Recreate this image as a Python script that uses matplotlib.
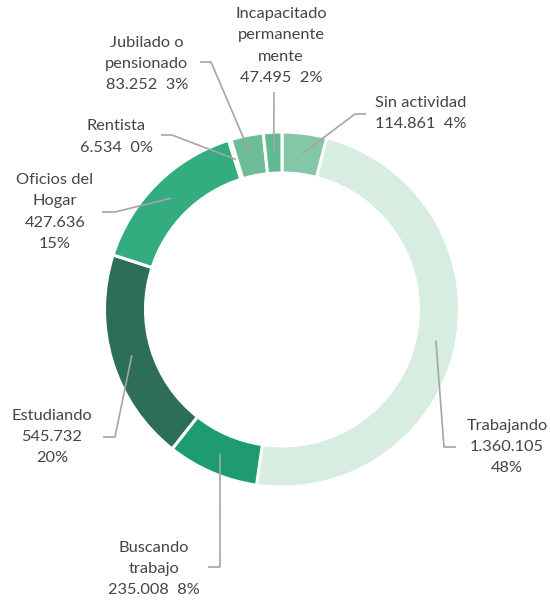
import matplotlib
matplotlib.use('Agg')
import matplotlib.pyplot as plt
import numpy as np

# datos (orden horario desde las 12)
categorias = ['Sin actividad', 'Trabajando', 'Buscando\ntrabajo', 'Estudiando',
              'Oficios del\nHogar', 'Rentista', 'Jubilado o\npensionado',
              'Incapacitado\npermanente\nmente']
valores = [114861, 1360105, 235008, 545732, 427636, 6534, 83252, 47495]
valores_txt = ['114.861', '1.360.105', '235.008', '545.732', '427.636', '6.534', '83.252', '47.495']
porcentajes = ['4%', '48%', '8%', '20%', '15%', '0%', '3%', '2%']
colores = ['#84c7a7', '#d7ede2', '#1e9c6f', '#2c6e57', '#33ad80', '#4fb387', '#6dbd98', '#5fba91']

H = 607
def px(x, y):
    return x, H - y

fig = plt.figure(figsize=(5.5, 6.07), dpi=100)
ax = fig.add_axes([0, 0, 1, 1])

cx, cy = px(282, 309.5)
R = 177.5
W = 41
wedges, _ = ax.pie(valores, colors=colores, startangle=90, counterclock=False,
                   center=(cx, cy), radius=R,
                   wedgeprops=dict(width=W, edgecolor='white', linewidth=2.2))
ax.set_xlim(0, 550)
ax.set_ylim(0, H)
ax.set_aspect('equal')
ax.axis('off')

# texto de cada etiqueta
etiquetas = []
for i in range(len(categorias)):
    if i in (1, 3, 4):
        etiquetas.append(f'{categorias[i]}\n{valores_txt[i]}\n{porcentajes[i]}')
    else:
        etiquetas.append(f'{categorias[i]}\n{valores_txt[i]}  {porcentajes[i]}')

pos_texto = [(421, 113.5), (507, 447), (154, 569), (52, 437),
             (55, 212), (116, 137), (147, 64), (281, 46)]
# codo y extremo de cada linea guia
codos = [((355, 114), (366, 114)), ((444, 447), (456, 447)), ((220, 567), (208, 567)),
         ((115, 437), (103, 437)), ((115, 212), (102, 212)), ((172, 135), (161, 135)),
         ((211, 62), (200, 62)), ((274, 92), (274, 92))]

r_mid = R - W / 2
for w, txt, pt, (c1, c2) in zip(wedges, etiquetas, pos_texto, codos):
    ang = np.deg2rad((w.theta1 + w.theta2) / 2)
    x0 = cx + r_mid * np.cos(ang)
    y0 = cy + r_mid * np.sin(ang)
    xs = [x0, px(*c1)[0], px(*c2)[0]]
    ys = [y0, px(*c1)[1], px(*c2)[1]]
    ax.plot(xs, ys, color='#a6a6a6', lw=1.2, solid_capstyle='butt')
    ax.text(*px(*pt), txt, ha='center', va='center', multialignment='center',
            fontsize=11.8, color='#454545', family=['Lato', 'DejaVu Sans'], linespacing=1.68)

fig.savefig('out.png', dpi=100)
